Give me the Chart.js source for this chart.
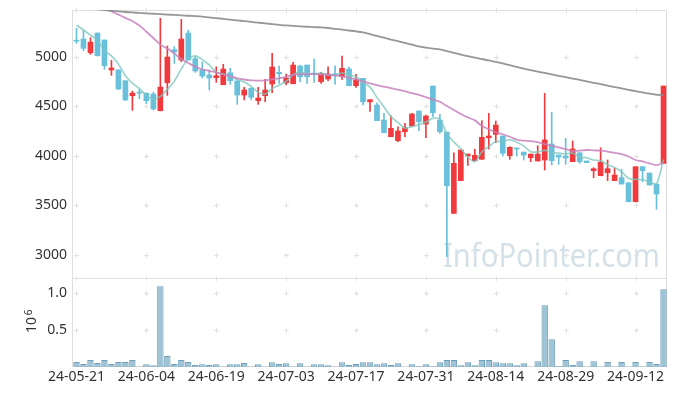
<!DOCTYPE html>
<html><head><meta charset="utf-8">
<script src="https://cdn.jsdelivr.net/npm/chart.js@4.4.1/dist/chart.umd.min.js"></script>
<style>html,body{margin:0;padding:0;background:#fff;}canvas{display:block;}</style>
</head><body>
<canvas id="c" width="677" height="396"></canvas>
<script>
const dates = ['24-05-21','24-05-22','24-05-23','24-05-24','24-05-27','24-05-28','24-05-29','24-05-30','24-05-31','24-06-03',
'24-06-04','24-06-05','24-06-07','24-06-10','24-06-11','24-06-12','24-06-13','24-06-14','24-06-17','24-06-18',
'24-06-19','24-06-20','24-06-21','24-06-24','24-06-25','24-06-26','24-06-27','24-06-28','24-07-01','24-07-02',
'24-07-03','24-07-04','24-07-05','24-07-08','24-07-09','24-07-10','24-07-11','24-07-12','24-07-15','24-07-16',
'24-07-17','24-07-18','24-07-19','24-07-22','24-07-23','24-07-24','24-07-25','24-07-26','24-07-29','24-07-30',
'24-07-31','24-08-01','24-08-02','24-08-05','24-08-06','24-08-07','24-08-08','24-08-09','24-08-12','24-08-13',
'24-08-14','24-08-16','24-08-19','24-08-20','24-08-21','24-08-22','24-08-23','24-08-26','24-08-27','24-08-28',
'24-08-29','24-08-30','24-09-02','24-09-03','24-09-04','24-09-05','24-09-06','24-09-09','24-09-10','24-09-11',
'24-09-12','24-09-13','24-09-19','24-09-20','24-09-23'];
const xTickLabels = ['24-05-21','24-06-04','24-06-19','24-07-03','24-07-17','24-07-31','24-08-14','24-08-29','24-09-12'];
const priceTicks = [3000,3500,4000,4500,5000];
const volumeTicks = [500000,1000000];

const openP = [5163,5177,5038,5237,5167,4864,4864,4756,4604,4640,
4628,4621,4453,4735,5069,4965,5237,4978,4864,4813,
4786,4715,4836,4753,4611,4679,4554,4604,4722,4840,
4735,4725,4904,4914,4830,4746,4773,4826,4796,4874,
4705,4780,4543,4510,4359,4190,4150,4240,4298,4450,
4318,4702,4359,4237,3416,3746,3995,3948,3962,4180,
4214,4197,3998,4076,4035,3978,3945,3955,4116,4005,
3995,3938,4028,3945,3847,3796,3826,3746,3776,3725,
3533,3887,3823,3712,3921];
const highP = [5285,5268,5190,5240,5167,4962,4868,4756,4651,4669,
4634,4640,5386,5106,5099,5376,5268,4998,4945,4864,
4897,4921,4881,4753,4689,4686,4689,4770,5032,4904,
4823,4941,4914,4914,4975,4840,4897,4907,5005,4894,
4820,4780,4564,4533,4426,4402,4291,4325,4426,4450,
4409,4702,4416,4237,4028,4056,4015,4063,4352,4426,
4349,4197,4089,4076,4035,4015,4099,4628,4436,4005,
4174,4147,4028,3945,3877,4079,3955,3871,3861,3725,
3887,3887,3823,3712,4702];
const lowP = [5133,5059,5022,5005,4871,4810,4665,4554,4457,4574,
4524,4460,4450,4608,4931,4947,4965,4840,4783,4662,
4739,4715,4719,4517,4561,4561,4517,4543,4634,4729,
4712,4725,4746,4729,4739,4729,4756,4722,4770,4705,
4689,4510,4446,4352,4230,4190,4140,4190,4298,4251,
4180,4392,4224,2978,3416,3746,3901,3948,3962,4066,
4130,3995,3962,3995,3955,3938,3945,3854,3904,3911,
3911,3938,3921,3928,3776,3796,3746,3746,3712,3533,
3533,3735,3702,3457,3921];
const closeP = [5155,5083,5146,5008,4907,4884,4672,4561,4631,4630,
4554,4470,4692,4995,5045,5177,4965,4854,4803,4783,
4806,4874,4756,4611,4662,4588,4581,4662,4894,4826,
4783,4914,4796,4796,4823,4830,4823,4810,4881,4705,
4763,4543,4564,4352,4230,4275,4248,4281,4419,4342,
4399,4432,4240,3695,3921,4056,4015,4002,4184,4197,
4308,4022,4083,4066,4005,4015,4015,4157,3948,3985,
3975,4066,3938,3928,3867,3934,3867,3803,3712,3533,
3887,3847,3702,3611,4702];
const volume = [68000,40000,95000,54000,95000,40000,68000,68000,95000,8000,
36000,23000,1095000,149000,40000,95000,68000,27000,36000,27000,
36000,8000,36000,36000,54000,8000,36000,8000,63000,40000,
50000,8000,50000,8000,36000,36000,23000,8000,63000,27000,
40000,63000,63000,36000,50000,27000,50000,5000,36000,10000,
36000,10000,63000,95000,95000,23000,63000,23000,95000,95000,
63000,50000,50000,23000,50000,3000,77000,838000,378000,12000,
95000,27000,77000,8000,77000,8000,68000,8000,68000,8000,
68000,8000,68000,40000,1054000];
const ma5 = [5318,5268,5217,5167,5060,5006,4923,4806,4731,4676,
4610,4569,4595,4668,4751,4876,4975,5007,4969,4916,
4842,4824,4804,4766,4742,4698,4640,4621,4677,4710,
4749,4816,4843,4823,4822,4832,4814,4816,4833,4810,
4796,4740,4691,4585,4490,4393,4334,4277,4291,4313,
4338,4375,4366,4222,4137,4069,3985,3938,4036,4091,
4141,4143,4159,4135,4097,4038,4037,4052,4028,4024,
4016,4026,3982,3978,3955,3947,3907,3880,3837,3770,
3760,3756,3736,3716,3960];
const ma20 = [5640,5600,5560,5520,5490,5456,5423,5390,5357,5314,
5250,5187,5120,5080,5030,4975,4935,4897,4870,4855,
4840,4820,4800,4780,4768,4760,4756,4760,4770,4780,
4795,4815,4823,4823,4822,4820,4815,4810,4800,4785,
4770,4750,4730,4710,4695,4680,4666,4650,4630,4612,
4590,4565,4543,4500,4460,4420,4385,4355,4300,4265,
4235,4215,4190,4160,4150,4145,4135,4115,4098,4082,
4065,4045,4050,4056,4052,4049,4040,4028,4015,3990,
3955,3940,3920,3904,3925];
const ma120 = [5500,5492,5484,5476,5468,5462,5456,5450,5445,5440,
5436,5432,5428,5424,5420,5416,5412,5408,5403,5395,
5388,5380,5372,5365,5358,5350,5342,5335,5327,5319,
5314,5309,5305,5301,5297,5294,5288,5280,5272,5263,
5254,5243,5226,5208,5190,5172,5155,5137,5120,5102,
5090,5080,5073,5055,5038,5020,5003,4988,4975,4960,
4947,4930,4912,4895,4878,4862,4848,4834,4820,4805,
4792,4778,4764,4750,4735,4721,4707,4692,4678,4664,
4650,4637,4625,4614,4611];

const UP = '#f03a3e', DOWN = '#68c0da';
const candleColor = openP.map((o, i) => closeP[i] > o ? UP : DOWN);

Chart.defaults.font.family = '"Noto Sans", sans-serif';
Chart.defaults.color = '#333';

const decor = {
  id: 'decor',
  beforeDatasetsDraw(chart) {
    const {ctx, scales} = chart;
    const x = scales.x, y = scales.y, yv = scales.yv;
    ctx.save();
    ctx.font = '32px "Noto Sans"';
    ctx.fillStyle = 'rgba(170,196,212,0.5)';
    ctx.textBaseline = 'alphabetic';
    const txt = 'InfoPointer.com';
    const w = ctx.measureText(txt).width;
    ctx.translate(443, 267);
    ctx.scale(217 / w, 1);
    ctx.fillText(txt, 0, 0);
    ctx.restore();
    ctx.save();
    ctx.strokeStyle = '#dedede';
    ctx.lineWidth = 1;
    const L = Math.round(x.left) - 0.5, R = Math.round(x.right) - 0.5;
    const T = Math.round(y.top) + 0.5, S = Math.round(y.bottom) + 0.5, B = Math.round(yv.bottom) - 0.5;
    ctx.beginPath();
    ctx.moveTo(L, T); ctx.lineTo(R, T); ctx.lineTo(R, B);
    ctx.moveTo(L, T); ctx.lineTo(L, B); ctx.lineTo(R, B);
    ctx.moveTo(L, S); ctx.lineTo(R, S);
    ctx.stroke();
    ctx.strokeStyle = '#e2e2e2';
    const xs = xTickLabels.map(l => Math.round(x.getPixelForValue(dates.indexOf(l))) + 0.5);
    const ys = priceTicks.map(v => y.getPixelForValue(v))
      .concat(volumeTicks.map(v => yv.getPixelForValue(v)))
      .concat([y.top, y.bottom]).map(v => Math.round(v) + 0.5);
    ctx.beginPath();
    xs.forEach(px => ys.forEach(py => {
      ctx.moveTo(px - 2.5, py); ctx.lineTo(px + 2.5, py);
      ctx.moveTo(px, py - 2.5); ctx.lineTo(px, py + 2.5);
    }));
    ctx.stroke();
    ctx.restore();
  },
  afterDraw(chart) {
    const ctx = chart.ctx;
    ctx.save();
    ctx.translate(32, 325);
    ctx.rotate(-Math.PI / 2);
    ctx.fillStyle = '#333';
    ctx.textAlign = 'center';
    ctx.textBaseline = 'middle';
    ctx.font = '14px "Noto Sans"';
    ctx.fillText('10', 0, 0);
    ctx.font = '10px "Noto Sans"';
    ctx.fillText('6', 12.5, -3);
    ctx.restore();
  }
};

const fitY = s => { s.width = 73; s.paddingTop = 0; s.paddingBottom = 0; };

new Chart(document.getElementById('c'), {
  type: 'bar',
  data: {
    labels: dates,
    datasets: [
      { type: 'line', data: ma120, yAxisID: 'y', borderColor: 'rgba(140,140,140,0.9)', borderWidth: 1.8, pointRadius: 0, tension: 0.3, order: 0 },
      { type: 'line', data: ma20, yAxisID: 'y', borderColor: 'rgba(200,130,190,0.85)', borderWidth: 1.8, pointRadius: 0, tension: 0.3, order: 0 },
      { type: 'line', data: ma5, yAxisID: 'y', borderColor: 'rgba(125,200,190,0.8)', borderWidth: 1.6, pointRadius: 0, tension: 0.3, order: 0 },
      { type: 'bar', data: openP.map((o, i) => [o, closeP[i]]), yAxisID: 'y', backgroundColor: candleColor, barThickness: 5, grouped: false, minBarLength: 1, borderWidth: 0, order: 1 },
      { type: 'bar', data: lowP.map((l, i) => [l, highP[i]]), yAxisID: 'y', backgroundColor: candleColor, barThickness: 1, grouped: false, borderWidth: 0, order: 2 },
      { type: 'bar', data: volume, yAxisID: 'yv', backgroundColor: 'rgba(140,184,206,0.85)', borderColor: '#6f9fb8', borderWidth: 1, barPercentage: 0.92, categoryPercentage: 1, grouped: false, order: 3 }
    ]
  },
  options: {
    responsive: false,
    animation: false,
    devicePixelRatio: 1,
    layout: { padding: { left: 0, right: 10, top: 10, bottom: 0 } },
    plugins: { legend: { display: false }, tooltip: { enabled: false } },
    scales: {
      x: {
        type: 'category', offset: true,
        grid: { display: false, drawTicks: false }, border: { display: false },
        ticks: { autoSkip: false, maxRotation: 0, minRotation: 0, padding: 2, font: { size: 14 }, color: '#333',
          callback: function(v, i) { const l = dates[i]; return xTickLabels.includes(l) ? l : null; } },
        afterFit: s => { s.height = 29; s.paddingLeft = 0; s.paddingRight = 0; }
      },
      yv: {
        type: 'linear', position: 'left', stack: 'p', stackWeight: 89, min: 0, max: 1207000,
        grid: { display: false, drawTicks: false }, border: { display: false },
        afterBuildTicks: s => { s.ticks = volumeTicks.map(v => ({ value: v })); },
        ticks: { padding: 6, font: { size: 14 }, color: '#333', callback: v => (v / 1e6).toFixed(1) },
        afterFit: fitY
      },
      y: {
        type: 'linear', position: 'left', stack: 'p', stackWeight: 268, min: 2763, max: 5470,
        grid: { display: false, drawTicks: false }, border: { display: false },
        afterBuildTicks: s => { s.ticks = priceTicks.map(v => ({ value: v })); },
        ticks: { padding: 6, font: { size: 14 }, color: '#333', callback: v => String(v) },
        afterFit: fitY
      }
    }
  },
  plugins: [decor]
});
</script>
</body></html>
